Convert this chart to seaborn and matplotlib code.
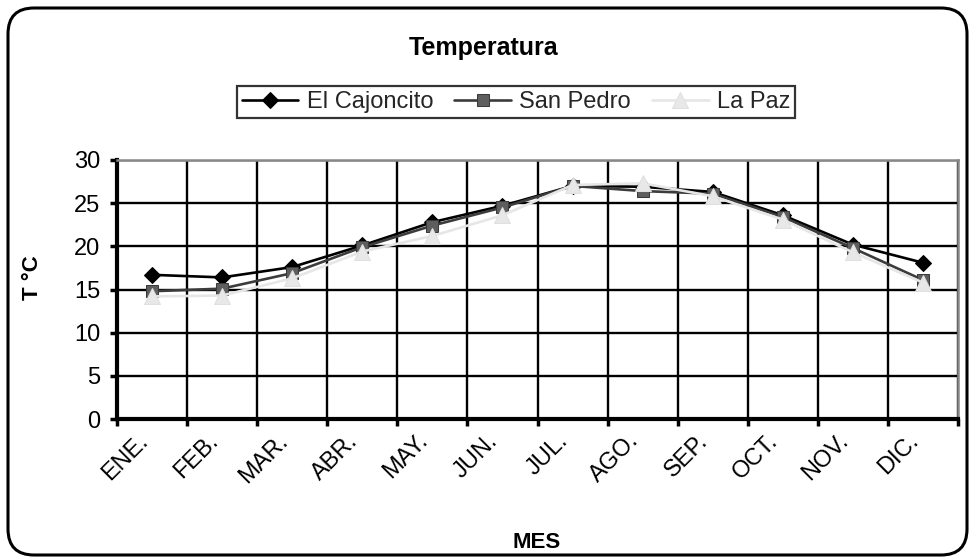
import numpy as np
import pandas as pd
import seaborn as sns
import matplotlib
matplotlib.use("Agg")
import matplotlib.pyplot as plt
from matplotlib.patches import FancyBboxPatch
from matplotlib.transforms import IdentityTransform

# ---- data ----
months = ["ENE.", "FEB.", "MAR.", "ABR.", "MAY.", "JUN.",
          "JUL.", "AGO.", "SEP.", "OCT.", "NOV.", "DIC."]
el_cajoncito = [16.7, 16.4, 17.6, 20.1, 22.8, 24.7, 27.0, 26.9, 26.3, 23.6, 20.2, 18.1]
san_pedro = [14.8, 15.1, 16.9, 19.9, 22.4, 24.5, 27.0, 26.4, 26.1, 23.4, 19.8, 16.1]
la_paz = [14.2, 14.3, 16.3, 19.4, 21.2, 23.6, 27.1, 27.3, 25.8, 23.1, 19.3, 15.8]
series_names = ["El Cajoncito", "San Pedro", "La Paz"]
yticks = [0, 5, 10, 15, 20, 25, 30]

title = "Temperatura"
xlabel = "MES"
ylabel = "T °C"

sns.set_theme(style="white")
plt.rcParams["font.family"] = ["Liberation Sans", "DejaVu Sans"]

W, H = 971, 560
fig = plt.figure(figsize=(W / 100, H / 100), dpi=100)
fig.patch.set_facecolor("white")

ax_l, ax_r, ax_t, ax_b = 117, 958, 160, 419
ax = fig.add_axes([ax_l / W, (H - ax_b) / H, (ax_r - ax_l) / W, (ax_b - ax_t) / H])
ax.set_facecolor("white")

x = np.arange(len(months))
styles = [
    dict(color="#000000", marker="D", markersize=8.5, markerfacecolor="#000000",
         markeredgecolor="#000000", lw=1.9),
    dict(color="#3c3c3c", marker="s", markersize=9, markerfacecolor="#5e5e5e",
         markeredgecolor="#3a3a3a", lw=1.9),
    dict(color="#e6e6e6", marker="^", markersize=11, markerfacecolor="#e8e8e8",
         markeredgecolor="#e0e0e0", lw=1.9),
]
for name, vals, st in zip(series_names, [el_cajoncito, san_pedro, la_paz], styles):
    sns.lineplot(x=x, y=vals, ax=ax, sort=False, label=name, zorder=3, **st)

ax.set_xlim(-0.5, len(months) - 0.5)
ax.set_ylim(0, 30)
ax.set_yticks(yticks)
ax.set_xticks(x)
ax.set_xticklabels(months, rotation=45, ha="right", va="bottom", rotation_mode="anchor")
ax.set_xticks(np.arange(len(months) + 1) - 0.5, minor=True)

ax.set_axisbelow(True)
ax.yaxis.grid(True, color="black", lw=1.7)
ax.xaxis.grid(True, which="minor", color="black", lw=1.7)
ax.xaxis.grid(False, which="major")

FS = 17
ax.tick_params(axis="y", which="major", direction="out", length=5, width=2.5,
               color="black", labelsize=FS, pad=7, left=True, labelcolor="black")
ax.tick_params(axis="x", which="major", length=0, labelsize=FS, pad=19, labelcolor="black")
ax.tick_params(axis="x", which="minor", direction="out", length=5, width=2.5,
               color="black", bottom=True)

for side in ["left", "bottom"]:
    ax.spines[side].set_color("black")
    ax.spines[side].set_linewidth(3)
for side in ["top", "right"]:
    ax.spines[side].set_color("#888888")
    ax.spines[side].set_linewidth(1.8)
ax.set_xlabel("")
ax.set_ylabel("")

# legend
handles, labels = ax.get_legend_handles_labels()
ax.get_legend().remove()
leg = fig.legend(handles, labels, loc="center", bbox_to_anchor=(516 / W, 1 - 102 / H),
                 ncol=3, frameon=True, fancybox=False, edgecolor="black",
                 fontsize=FS, handlelength=2.4, columnspacing=0.9,
                 handletextpad=0.35, borderpad=0.2, borderaxespad=0)
leg.get_frame().set_linewidth(1.6)
leg.get_frame().set_facecolor("white")

# texts
fig.text(484 / W, 1 - 48 / H, title, ha="center", va="center",
         fontsize=18, fontweight="bold", color="black")
fig.text(537 / W, 1 - 542 / H, xlabel, ha="center", va="center",
         fontsize=16, fontweight="bold", color="black")
fig.text(33 / W, 1 - 278 / H, ylabel, ha="center", va="center", rotation=90,
         fontsize=16, fontweight="bold", color="black")

# outer rounded frame
frame = FancyBboxPatch((8, H - 555), 959, 547,
                       boxstyle="round,pad=0,rounding_size=26",
                       transform=IdentityTransform(), fill=False,
                       edgecolor="black", lw=2.2)
fig.patches.append(frame)

fig.savefig("out.png", dpi=100)
